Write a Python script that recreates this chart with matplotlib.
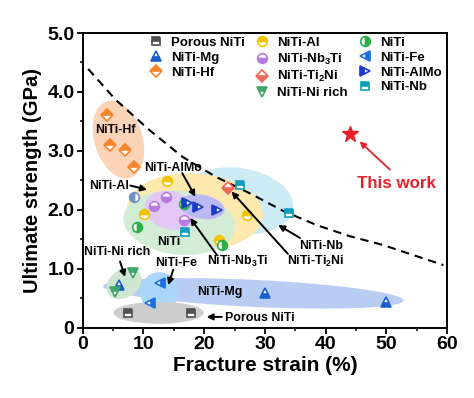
import matplotlib
matplotlib.use("Agg")
import matplotlib.pyplot as plt
import matplotlib.transforms as mtransforms
from matplotlib.patches import Ellipse
from matplotlib.lines import Line2D

plt.rcParams['font.family'] = 'Liberation Sans'
plt.rcParams['font.weight'] = 'bold'
plt.rcParams['axes.labelweight'] = 'bold'
plt.rcParams['mathtext.fontset'] = 'custom'
plt.rcParams['mathtext.bf'] = 'Liberation Sans:bold'
plt.rcParams['mathtext.rm'] = 'Liberation Sans:bold'
plt.rcParams['mathtext.default'] = 'bf'

# ---- data (fracture strain %, strength GPa) ----
porous_x = [7.4, 17.8]
porous_y = [0.25, 0.25]
mg_x = [6.0, 30.0, 50.0]
mg_y = [0.72, 0.59, 0.43]
hf_x = [4.0, 4.55, 7.0, 8.4]
hf_y = [3.61, 3.10, 3.02, 2.72]
al_x = [13.8, 10.1, 27.0, 22.5]
al_y = [2.48, 1.93, 1.91, 1.49]
nb3ti_x = [11.8, 13.7, 16.6]
nb3ti_y = [2.07, 2.22, 1.82]
ti2ni_x = [24.0]
ti2ni_y = [2.37]
nirich_x = [8.35, 5.3]
nirich_y = [0.92, 0.61]
niti_x = [8.9, 16.7, 22.9]
niti_y = [1.71, 2.10, 1.40]
niti_extra_x = [8.4]
niti_extra_y = [2.22]
fe_x = [12.7, 11.1]
fe_y = [0.76, 0.42]
almo_x = [17.1, 19.0, 22.1]
almo_y = [2.11, 2.05, 2.00]
nb_x = [25.9, 34.0, 16.9]
nb_y = [2.42, 1.95, 1.63]
this_work_x = [44.0]
this_work_y = [3.29]

# dashed trade-off boundary
bound_x = [0.9, 5.4, 10.9, 16.4, 21.9, 27.5, 33.0, 38.5, 44.0, 49.5, 59.4]
bound_y = [4.39, 3.87, 3.36, 2.90, 2.56, 2.28, 1.98, 1.74, 1.55, 1.40, 1.06]

fig = plt.figure(figsize=(4.74, 3.98), dpi=100)
ax = fig.add_axes([0.1745, 0.1771, 0.7686, 0.7399])
ax.set_xlim(0, 60)
ax.set_ylim(0, 5.0)

# shaded groups: centre in data units, size in pixels, angle in degrees
regions = [
    ((5.9, 3.19), 80, 48, -73, '#fbd3b6'),     # Hf
    ((25.5, 2.15), 112, 66, -8, '#cdebf4'),    # Nb
    ((18.5, 1.97), 136, 76, -4, '#fde9ad'),    # Al
    ((15.9, 1.78), 112, 64, -6, '#d3ecd6'),    # NiTi
    ((14.4, 1.99), 52, 38, -15, '#e3c8f5'),    # Nb3Ti
    ((19.6, 2.05), 46, 24, -10, '#bcbaf6'),    # AlMo
    ((28.1, 0.58), 301, 27, -2.7, '#b9cdf2'),  # Mg
    ((6.8, 0.75), 38, 28, 35, '#cfe6d0'),      # Ni rich
    ((12.6, 0.60), 38, 40, 0, '#aad6fb'),      # Fe
    ((12.5, 0.25), 90, 22, 0, '#cdcdcd'),      # Porous
]
for (cx, cy), w, h, ang, col in regions:
    tr = mtransforms.ScaledTranslation(cx, cy, ax.transData)
    ax.add_patch(Ellipse((0, 0), w, h, angle=ang, facecolor=col,
                         edgecolor='none', transform=tr, zorder=1))

ax.plot(bound_x, bound_y, color='black', lw=1.5, ls=(0, (4, 2.8)), zorder=2)

series = [
    (porous_x, porous_y, 's', 'top', '#505050', 'Porous NiTi'),
    (mg_x, mg_y, '^', 'bottom', '#1b5fcc', 'NiTi-Mg'),
    (hf_x, hf_y, 'D', 'top', '#f5842a', 'NiTi-Hf'),
    (None, None, None, None, None, ''),
    (al_x, al_y, 'o', 'top', '#f2c200', 'NiTi-Al'),
    (nb3ti_x, nb3ti_y, 'o', 'bottom', '#b77be0', r'NiTi-Nb$_3$Ti'),
    (ti2ni_x, ti2ni_y, 'D', 'bottom', '#f06a5c', r'NiTi-Ti$_2$Ni'),
    (nirich_x, nirich_y, 'v', 'top', '#3fa56a', 'NiTi-Ni rich'),
    (niti_x, niti_y, 'o', 'right', '#2cae48', 'NiTi'),
    (fe_x, fe_y, '<', 'right', '#1d6fe0', 'NiTi-Fe'),
    (almo_x, almo_y, '>', 'left', '#1a3cc8', 'NiTi-AlMo'),
    (nb_x, nb_y, 's', 'top', '#139dbd', 'NiTi-Nb'),
]
handles, labels = [], []
for xs, ys, mk, fs, col, lab in series:
    if xs is None:
        handles.append(Line2D([], [], ls='none', marker=None))
        labels.append('')
        continue
    size = 6 if mk in ('s', 'D') else 7
    h, = ax.plot(xs, ys, ls='none', marker=mk, fillstyle=fs, color=col,
                 markerfacecoloralt='white', markeredgecolor=col,
                 markersize=size, markeredgewidth=1.2, zorder=4)
    handles.append(h)
    labels.append(lab)

ax.plot(niti_extra_x, niti_extra_y, ls='none', marker='o', fillstyle='left',
        color='#6f93c4', markerfacecoloralt='white', markeredgecolor='#6f93c4',
        markersize=7, markeredgewidth=1.2, zorder=4)
ax.plot(this_work_x, this_work_y, ls='none', marker='*', color='#e8202a',
        markersize=12, zorder=5)

ax.legend(handles, labels, ncol=3, loc='upper left',
          bbox_to_anchor=(0.16, 1.015), frameon=False, fontsize=9.5,
          handlelength=1.0, handletextpad=0.65, columnspacing=0.8,
          labelspacing=0.2, borderaxespad=0.2)

# labels and arrows
fs_lab = 8.9
label_texts = [
    ('NiTi-Hf', 5.37, 3.36), ('NiTi-AlMo', 14.85, 2.70),
    ('NiTi-Al', 4.28, 2.41), ('NiTi', 14.1, 1.46),
    ('NiTi-Ni rich', 5.7, 1.28), ('NiTi-Fe', 15.3, 1.09),
    (r'NiTi-Nb$_3$Ti', 25.6, 1.12), (r'NiTi-Ti$_2$Ni', 38.3, 1.12),
    ('NiTi-Nb', 39.2, 1.39), ('NiTi-Mg', 22.5, 0.61),
]
for txt, x, y in label_texts:
    ax.text(x, y, txt, fontsize=fs_lab, ha='center', va='center', zorder=6)
ax.text(23.4, 0.17, 'Porous NiTi', fontsize=fs_lab, ha='left', va='center',
        zorder=6)

arrows = [
    ((7.85, 2.41), (10.6, 2.34)), ((16.4, 2.62), (18.55, 2.22)),
    ((22.1, 1.23), (17.7, 1.86)), ((33.8, 1.25), (24.5, 2.31)),
    ((35.8, 1.52), (32.2, 1.74)), ((6.15, 1.12), (6.97, 0.86)),
    ((14.9, 0.98), (14.1, 0.72)), ((22.9, 0.18), (20.4, 0.18)),
]
for tail, head in arrows:
    ax.annotate('', xy=head, xytext=tail, zorder=6,
                arrowprops=dict(arrowstyle='-|>', color='black', lw=1.4,
                                mutation_scale=9, shrinkA=0, shrinkB=0))
ax.annotate('', xy=(45.6, 3.16), xytext=(50.6, 2.68), zorder=6,
            arrowprops=dict(arrowstyle='-|>', color='#e8202a', lw=1.3,
                            mutation_scale=9, shrinkA=0, shrinkB=0))
ax.text(51.7, 2.45, 'This work', color='#e8202a', fontsize=12.2,
        ha='center', va='center')

ax.set_xticks([0, 10, 20, 30, 40, 50, 60])
ax.set_xticks([5, 15, 25, 35, 45, 55], minor=True)
ax.set_yticks([0, 1, 2, 3, 4, 5])
ax.set_yticklabels(['0', '1.0', '2.0', '3.0', '4.0', '5.0'])
ax.set_yticks([0.5, 1.5, 2.5, 3.5, 4.5], minor=True)
ax.tick_params(which='major', direction='out', length=4, width=1.3,
               labelsize=14, pad=2)
ax.tick_params(which='minor', direction='out', length=2.5, width=1.1)
for sp in ax.spines.values():
    sp.set_linewidth(1.4)
ax.set_xlabel('Fracture strain (%)', fontsize=15, labelpad=2)
ax.set_ylabel('Ultimate strength (GPa)', fontsize=14.5, labelpad=4)

fig.savefig('out.png', dpi=100)
